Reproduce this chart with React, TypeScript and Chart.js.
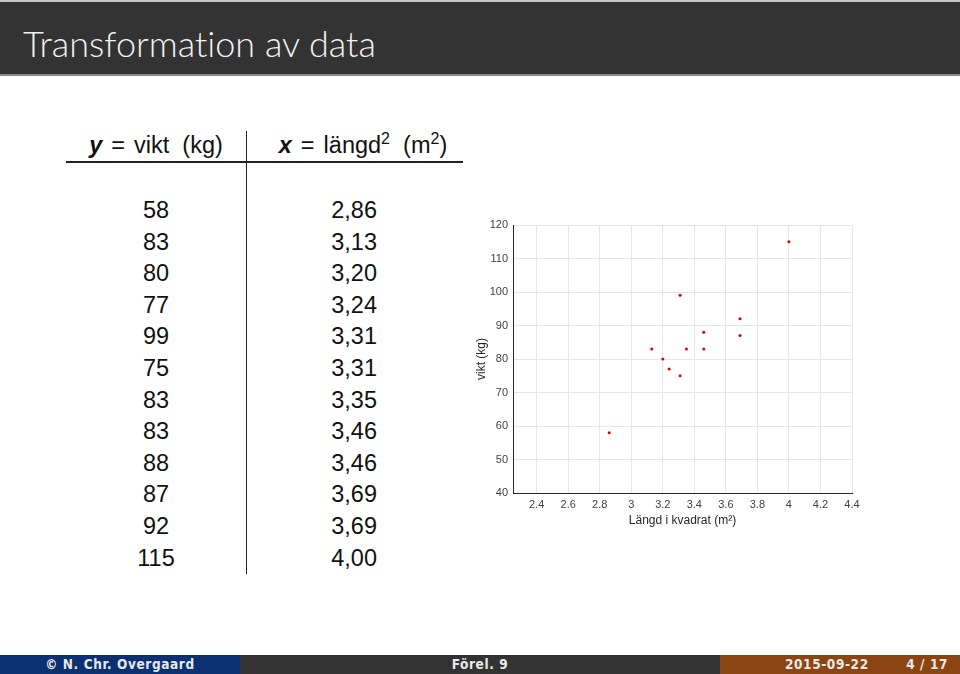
import React, { useEffect, useRef } from "react";
import { Chart, registerables } from "chart.js";

Chart.register(...registerables);

const weights = [58, 83, 80, 77, 99, 75, 83, 83, 88, 87, 92, 115];
const heightsSq = [2.86, 3.13, 3.2, 3.24, 3.31, 3.31, 3.35, 3.46, 3.46, 3.69, 3.69, 4.0];
const heightsSqText = ["2,86", "3,13", "3,20", "3,24", "3,31", "3,31", "3,35", "3,46", "3,46", "3,69", "3,69", "4,00"];
const xTicks = [2.4, 2.6, 2.8, 3, 3.2, 3.4, 3.6, 3.8, 4, 4.2, 4.4];
const yTicks = [40, 50, 60, 70, 80, 90, 100, 110, 120];

const FONT = "'Liberation Sans', Arial, sans-serif";

function ScatterChart() {
  const ref = useRef<HTMLCanvasElement | null>(null);
  useEffect(() => {
    if (!ref.current) return;
    const tickFont = { family: FONT, size: 11 };
    const chart = new Chart(ref.current, {
      type: "scatter",
      data: {
        datasets: [
          {
            data: heightsSq.map((x, i) => ({ x, y: weights[i] })),
            pointRadius: 1.5,
            pointBackgroundColor: "#d80000",
            pointBorderWidth: 0,
            pointHoverRadius: 1.5,
          },
        ],
      },
      options: {
        animation: false,
        responsive: false,
        maintainAspectRatio: false,
        events: [],
        plugins: { legend: { display: false }, tooltip: { enabled: false } },
        layout: { padding: { top: 15, right: 28, left: 0, bottom: 0 } },
        scales: {
          x: {
            type: "linear",
            min: 2.25,
            max: 4.4,
            afterFit: (s: any) => {
              s.height = 47;
            },
            afterBuildTicks: (s: any) => {
              s.ticks = xTicks.map((v) => ({ value: v }));
            },
            ticks: {
              font: tickFont,
              color: "#404040",
              padding: 5,
              maxRotation: 0,
              autoSkip: false,
              callback: (v: any) => String(Number(Number(v).toFixed(2))),
            },
            grid: { color: "#e6e6e6", drawTicks: false },
            border: { color: "#262626" },
            title: {
              display: true,
              text: "Längd i kvadrat (m²)",
              font: { family: FONT, size: 12 },
              color: "#262626",
              padding: { top: 0, bottom: 12 },
            },
          },
          y: {
            type: "linear",
            min: 40,
            max: 120,
            afterFit: (s: any) => {
              s.width = 53;
            },
            afterBuildTicks: (s: any) => {
              s.ticks = yTicks.map((v) => ({ value: v }));
            },
            ticks: {
              font: tickFont,
              color: "#404040",
              padding: 5,
              autoSkip: false,
            },
            grid: { color: "#e6e6e6", drawTicks: false },
            border: { color: "#262626" },
            title: {
              display: true,
              text: "vikt (kg)",
              font: { family: FONT, size: 12 },
              color: "#262626",
              padding: { top: 14.5, bottom: 0 },
            },
          },
        },
      },
    });
    return () => chart.destroy();
  }, []);
  return (
    <canvas
      ref={ref}
      width={420}
      height={330}
      style={{ position: "absolute", left: 460, top: 210, width: 420, height: 330 }}
    />
  );
}

export default function App() {
  const tableFont: React.CSSProperties = {
    position: "absolute",
    fontFamily: FONT,
    fontSize: 23.5,
    color: "#111",
    lineHeight: "28px",
    whiteSpace: "nowrap",
  };
  const sup: React.CSSProperties = { fontSize: 16, lineHeight: 0, verticalAlign: "0.55em" };
  const eq = <span style={{ margin: "0 9px" }}>=</span>;
  const rowTop = (i: number) => 210 - 14 + i * 31.6;
  return (
    <div
      style={{
        position: "absolute",
        left: 0,
        top: 0,
        width: 960,
        height: 674,
        background: "#fff",
        overflow: "hidden",
      }}
    >
      {/* header */}
      <div style={{ position: "absolute", left: 0, top: 0, width: 960, height: 2, background: "#c8c8c8" }} />
      <div style={{ position: "absolute", left: 0, top: 2, width: 960, height: 72, background: "#333333" }} />
      <div style={{ position: "absolute", left: 0, top: 74, width: 960, height: 2, background: "#8a8a8a" }} />
      <div
        style={{
          position: "absolute",
          left: 23,
          top: 22,
          fontFamily: "Lato, 'Open Sans', sans-serif",
          fontWeight: 300,
          fontSize: 36,
          fontVariantLigatures: "none",
          lineHeight: "42px",
          color: "#f2f2f2",
          whiteSpace: "nowrap",
        }}
      >
        Transformation av data
      </div>

      {/* table header */}
      <div style={{ ...tableFont, left: 66, width: 180, top: 131, textAlign: "center" }}>
        <b><i>y</i></b>{eq}vikt&nbsp;&nbsp;(kg)
      </div>
      <div style={{ ...tableFont, left: 255, width: 216, top: 131, textAlign: "center" }}>
        <b><i>x</i></b>{eq}längd<sup style={sup}>2</sup>&nbsp;&nbsp;(m<sup style={sup}>2</sup>)
      </div>
      <div style={{ position: "absolute", left: 66, top: 161, width: 397, height: 1.5, background: "#222" }} />
      <div style={{ position: "absolute", left: 245.5, top: 131, width: 1.5, height: 443, background: "#222" }} />

      {weights.map((w, i) => (
        <div key={"w" + i} style={{ ...tableFont, left: 96, width: 120, top: rowTop(i), textAlign: "center" }}>
          {w}
        </div>
      ))}
      {heightsSqText.map((h, i) => (
        <div key={"h" + i} style={{ ...tableFont, left: 277, width: 100, top: rowTop(i), textAlign: "right" }}>
          {h}
        </div>
      ))}

      <ScatterChart />

      {/* footer */}
      <div
        style={{
          position: "absolute",
          top: 655,
          left: 0,
          width: 960,
          height: 19,
          display: "flex",
          fontFamily: "'DejaVu Sans Condensed', 'DejaVu Sans', sans-serif",
          fontWeight: "bold",
          fontSize: 13.5,
          letterSpacing: "0.6px",
          color: "#e8e8e8",
          lineHeight: "19px",
        }}
      >
        <div style={{ width: 240, background: "#0c3172", textAlign: "center" }}>© N. Chr. Overgaard</div>
        <div style={{ width: 480, background: "#333333", textAlign: "center" }}>Förel. 9</div>
        <div style={{ width: 240, background: "#8b4513", position: "relative" }}>
          <span style={{ position: "absolute", left: 65 }}>2015-09-22</span>
          <span style={{ position: "absolute", right: 12 }}>4 / 17</span>
        </div>
      </div>
    </div>
  );
}
